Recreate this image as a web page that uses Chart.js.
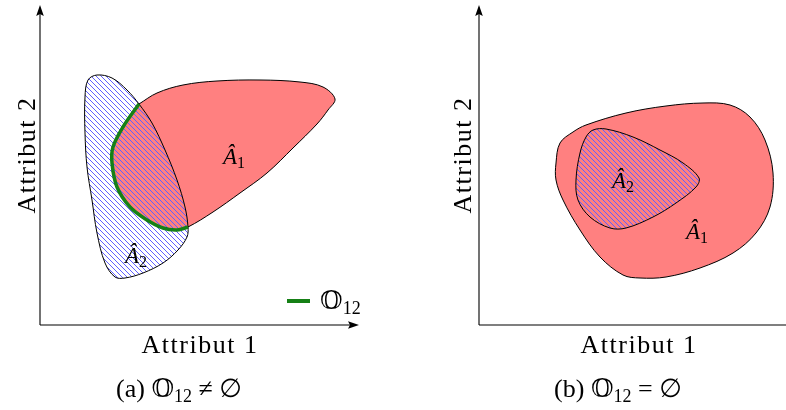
<!DOCTYPE html>
<html>
<head>
<meta charset="utf-8">
<script src="https://cdn.jsdelivr.net/npm/chart.js@4.4.1/dist/chart.umd.min.js"></script>
<style>
  html, body { margin: 0; padding: 0; background: #fff; }
  #wrap { display: flex; width: 786px; height: 410px; overflow: hidden; }
  .panel { width: 393px; height: 410px; }
</style>
</head>
<body>
<div id="wrap">
  <div class="panel"><canvas id="chartA" width="393" height="410"></canvas></div>
  <div class="panel"><canvas id="chartB" width="393" height="410"></canvas></div>
</div>
<script>
// units are measured from the axis origin of each panel
const xTitle = 'Attribut 1'
const yTitle = 'Attribut 2'
const axisLenX = 319
const axisLenY = 320

// (a) A1: upper and right edge, from the upper crossing to the lower one
const a1EdgeX = [99, 117, 143, 177, 220, 260, 283, 295, 288, 277, 253, 227, 200, 173]
const a1EdgeY = [221, 232, 240, 244, 245, 243, 238, 226, 215, 201, 177, 152, 132, 113]
// (a) O12 = left edge of A1 lying inside A2
const overlapX = [148, 137, 123, 107, 90, 77, 72, 73, 83, 99]
const overlapY = [98, 95, 97, 105, 118, 138, 162, 178, 198, 221]
// (a) A2 outline
const a2X = [57, 48, 45, 45, 47, 52, 57, 65, 75, 85, 103, 123, 138, 147, 148, 145, 137, 125, 112, 99, 87, 72]
const a2Y = [250, 245, 228, 192, 158, 125, 92, 62, 48, 47, 52, 62, 75, 88, 98, 118, 145, 175, 202, 221, 235, 247]

// (b) A1 and A2 outlines
const b1X = [77, 81, 94, 107, 147, 187, 224, 251, 271, 286, 294, 291, 277, 254, 221, 187, 161, 144, 121, 101, 84, 77]
const b1Y = [162, 182, 193, 200, 212, 219, 222, 220, 208, 185, 152, 118, 92, 72, 57, 48, 47, 50, 68, 95, 125, 145]
const b2X = [114, 127, 154, 181, 204, 220, 217, 197, 174, 147, 131, 111, 99, 97, 101, 107]
const b2Y = [195, 196, 188, 175, 162, 147, 138, 122, 108, 97, 97, 108, 125, 145, 172, 188]

// region names (A hat + index), left/baseline anchor
const labelsAX = [183, 85]
const labelsAY = [161, 62]
const labelsASub = ['1', '2']
const labelsBX = [207, 133]
const labelsBY = [86, 137]
const labelsBSub = ['1', '2']

// legend of (a)
const legendLineX = [247, 270]
const legendLineY = [24, 24]
const legendText = ['𝕆', '12']

const captionA = ['(a) 𝕆', '12', ' ≠ ∅']
const captionB = ['(b) 𝕆', '12', ' = ∅']

const red = '#ff8080'
const green = 'rgb(22,128,22)'
const hatchBlue = 'rgb(95,95,255)'
const serif = '"Liberation Serif", "DejaVu Serif", "DejaVu Sans", serif'

function toPoints(xs, ys) {
    return xs.map((x, i) => ({x: x, y: ys[i]}))
}

// north west lines, one pixel wide
function makeHatch() {
    const p = 5
    const c = document.createElement('canvas')
    c.width = p
    c.height = p
    const g = c.getContext('2d')
    g.fillStyle = hatchBlue
    for (let i = 0; i < p; i++) {
        g.fillRect(i, i, 1, 1)
    }
    return g.createPattern(c, 'repeat')
}
const hatch = makeHatch()

function shape(points, fillColor, order, closed) {
    return {
        data: points,
        showLine: true,
        fill: 'shape',
        backgroundColor: fillColor,
        borderColor: '#000',
        borderWidth: 1,
        pointRadius: 0,
        tension: 0.35,
        order: order,
        closed: closed
    }
}

// lets a scatter line close on itself smoothly, like the radar chart does
const closeShapes = {
    id: 'closeShapes',
    afterDatasetUpdate(chart, args) {
        const ds = chart.data.datasets[args.index]
        if (ds.closed) {
            args.meta.dataset._loop = true
            args.meta.dataset._fullLoop = true
        }
    }
}

function drawParts(ctx, parts, x, y, center) {
    let total = 0
    for (const p of parts) {
        ctx.font = p.font
        ctx.letterSpacing = p.spacing || '0px'
        total += ctx.measureText(p.text).width
    }
    let cx = center ? x - total / 2 : x
    for (const p of parts) {
        ctx.font = p.font
        ctx.letterSpacing = p.spacing || '0px'
        ctx.fillText(p.text, cx, y + (p.dy || 0))
        cx += ctx.measureText(p.text).width
    }
    ctx.letterSpacing = '0px'
}

function arrowHead(ctx, x, y, angle) {
    ctx.save()
    ctx.translate(x, y)
    ctx.rotate(angle)
    ctx.beginPath()
    ctx.moveTo(0, 0)
    ctx.lineTo(-11, -3.8)
    ctx.lineTo(-9, 0)
    ctx.lineTo(-11, 3.8)
    ctx.closePath()
    ctx.fill()
    ctx.restore()
}

function decor(cfg) {
    return {
        id: 'decor',
        afterDraw(chart) {
            const ctx = chart.ctx
            const xs = chart.scales.x
            const ys = chart.scales.y
            const ox = xs.getPixelForValue(0)
            const oy = ys.getPixelForValue(0)
            const tipX = xs.getPixelForValue(axisLenX)
            const tipY = ys.getPixelForValue(axisLenY)
            ctx.save()
            ctx.strokeStyle = '#000'
            ctx.fillStyle = '#000'
            ctx.lineWidth = 1.1
            ctx.beginPath()
            ctx.moveTo(ox, oy)
            ctx.lineTo(tipX - 8, oy)
            ctx.moveTo(ox, oy)
            ctx.lineTo(ox, tipY + 8)
            ctx.stroke()
            arrowHead(ctx, tipX, oy, 0)
            arrowHead(ctx, ox, tipY, -Math.PI / 2)

            ctx.textBaseline = 'alphabetic'
            // axis titles
            const big = '26px ' + serif
            drawParts(ctx, [{text: xTitle, font: big, spacing: '1.5px'}], xs.getPixelForValue(160), oy + 28, true)
            ctx.save()
            ctx.translate(ox - cfg.yTitleGap, ys.getPixelForValue(170))
            ctx.rotate(-Math.PI / 2)
            drawParts(ctx, [{text: yTitle, font: big, spacing: '1.5px'}], 0, 0, true)
            ctx.restore()

            // region names
            for (let i = 0; i < cfg.lx.length; i++) {
                const px = xs.getPixelForValue(cfg.lx[i])
                const py = ys.getPixelForValue(cfg.ly[i])
                drawParts(ctx, [
                    {text: 'Â', font: 'italic 23px ' + serif},
                    {text: cfg.lsub[i], font: '16px ' + serif, dy: 4}
                ], px, py, false)
            }

            // legend
            if (cfg.legend) {
                ctx.strokeStyle = green
                ctx.lineWidth = 4
                ctx.beginPath()
                ctx.moveTo(xs.getPixelForValue(legendLineX[0]), ys.getPixelForValue(legendLineY[0]))
                ctx.lineTo(xs.getPixelForValue(legendLineX[1]), ys.getPixelForValue(legendLineY[1]))
                ctx.stroke()
                drawParts(ctx, [
                    {text: legendText[0], font: big},
                    {text: legendText[1], font: '18px ' + serif, dy: 5}
                ], xs.getPixelForValue(280), ys.getPixelForValue(16), false)
            }

            // caption
            drawParts(ctx, [
                {text: cfg.caption[0], font: big},
                {text: cfg.caption[1], font: '18px ' + serif, dy: 5},
                {text: cfg.caption[2], font: big}
            ], cfg.captionX, 397, true)
            ctx.restore()
        }
    }
}

function makeChart(id, datasets, xMax, padLeft, padRight, cfg) {
    return new Chart(document.getElementById(id), {
        type: 'scatter',
        data: {datasets: datasets},
        options: {
            responsive: false,
            animation: false,
            events: [],
            layout: {padding: {left: padLeft, right: padRight, top: 5, bottom: 85}},
            scales: {
                x: {type: 'linear', display: false, min: 0, max: xMax},
                y: {type: 'linear', display: false, min: 0, max: axisLenY}
            },
            plugins: {legend: {display: false}, tooltip: {enabled: false}}
        },
        plugins: [closeShapes, decor(cfg)]
    })
}

const a1Points = toPoints(a1EdgeX.concat(overlapX), a1EdgeY.concat(overlapY))
const overlapPoints = toPoints(overlapX, overlapY)

makeChart('chartA', [
    shape(a1Points, red, 2, false),
    shape(toPoints(a2X, a2Y), hatch, 1, true),
    {
        data: overlapPoints,
        showLine: true,
        fill: false,
        borderColor: green,
        borderWidth: 3.5,
        pointRadius: 0,
        tension: 0.35,
        order: 0
    }
], axisLenX, 40, 34, {
    lx: labelsAX, ly: labelsAY, lsub: labelsASub,
    legend: true, caption: captionA, captionX: 179, yTitleGap: 5
})

makeChart('chartB', [
    shape(toPoints(b1X, b1Y), red, 1, true),
    shape(toPoints(b2X, b2Y), hatch, 0, true)
], 307, 86, 0, {
    lx: labelsBX, ly: labelsBY, lsub: labelsBSub,
    legend: false, caption: captionB, captionX: 225, yTitleGap: 8
})
</script>
</body>
</html>
